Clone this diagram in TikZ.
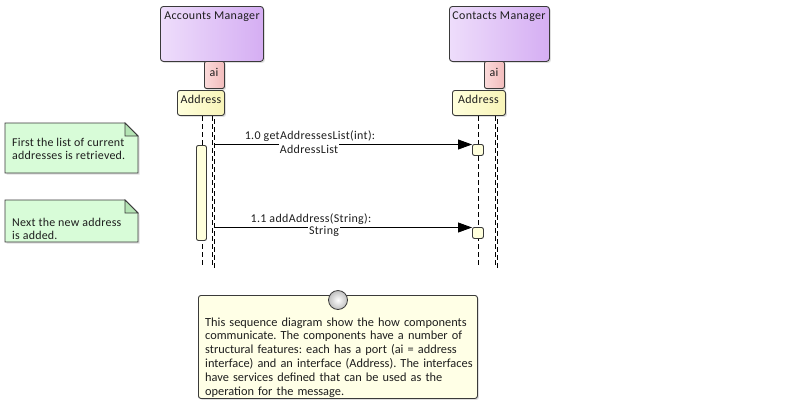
\documentclass[tikz,border=0pt]{standalone}
\usepackage{fontspec}
\setmainfont{Carlito}[LetterSpace=2.8]
\newfontfamily\notefont{Carlito}[LetterSpace=2]
\newfontfamily\bigfont{Carlito}
\usetikzlibrary{arrows.meta,shadows,calc}
\definecolor{txt}{HTML}{1E1E1E}
\definecolor{edge}{HTML}{3A3A3A}
\definecolor{purL}{HTML}{EEDDFB}
\definecolor{purR}{HTML}{D5AEF3}
\definecolor{pinkL}{HTML}{FBDADA}
\definecolor{pinkR}{HTML}{F2BCBC}
\definecolor{addrL}{HTML}{FFFFDC}
\definecolor{addrR}{HTML}{F8F4B8}
\definecolor{notegreen}{HTML}{D8FCD8}
\definecolor{foldgreen}{HTML}{B4E4B4}
\definecolor{noteyel}{HTML}{FFFFE6}
\frenchspacing
\begin{document}
\begin{tikzpicture}[x=1bp,y=-1bp,
  font=\fontsize{12}{13.5}\selectfont, text=txt,
  comp/.style={draw=edge, line width=0.9bp, rounded corners=3bp, left color=purL, right color=purR,
     drop shadow={shadow xshift=1.5bp, shadow yshift=-1.5bp, opacity=0.25}},
  port/.style={draw=edge, line width=0.9bp, rounded corners=2bp, left color=pinkL, right color=pinkR,
     drop shadow={shadow xshift=1.5bp, shadow yshift=-1.5bp, opacity=0.25}},
  iface/.style={draw=edge, line width=0.9bp, rounded corners=2.5bp, left color=addrL, right color=addrR,
     drop shadow={shadow xshift=1.5bp, shadow yshift=-1.5bp, opacity=0.25}},
  lifeline/.style={draw=black, line width=0.8bp, dash pattern=on 5bp off 3bp},
  actbar/.style={draw=edge, line width=0.9bp, rounded corners=2bp, fill=addrL},
  recv/.style={draw=edge, line width=0.9bp, rounded corners=2bp, fill=addrL},
  msg/.style={draw=black, line width=0.9bp, -{Triangle[length=14bp,width=10bp]}},
  lbl/.style={anchor=base, inner sep=0pt},
  notetext/.style={align=left, anchor=north west, inner sep=0pt, font=\notefont\fontsize{12}{13.3}\selectfont},
]
\useasboundingbox[fill=white] (0,0) rectangle (805,405);

% ---------- Components ----------
\node[comp, minimum width=103bp, minimum height=55bp, anchor=north west] (am) at (160,6) {};
\node[lbl] (amt) at (212,19) {Accounts Manager};
\node[port, minimum width=20bp, minimum height=27bp, anchor=north west] (aip1) at (204,61) {};
\node[lbl] (aip1t) at (214,76) {ai};
\node[iface, minimum width=47bp, minimum height=25bp, anchor=north west] (adr1) at (177,90) {};
\node[lbl] (adr1t) at (201,103) {Address};

\node[comp, minimum width=100bp, minimum height=55bp, anchor=north west] (cm) at (449,6) {};
\node[lbl] (cmt) at (499,19) {Contacts Manager};
\node[port, minimum width=20bp, minimum height=27bp, anchor=north west] (aip2) at (484,61) {};
\node[lbl] (aip2t) at (494,76) {ai};
\node[iface, minimum width=53bp, minimum height=25bp, anchor=north west] (adr2) at (452,90) {};
\node[lbl] (adr2t) at (478.5,103) {Address};

% ---------- Lifelines ----------
\coordinate (l1a) at (202,116);  \coordinate (l1b) at (202,268);
\coordinate (l2a) at (212,116);  \coordinate (l2b) at (212,268);
\coordinate (l3a) at (214,119);  \coordinate (l3b) at (214,268);
\coordinate (r1a) at (478,116);  \coordinate (r1b) at (478,268);
\coordinate (r2a) at (495,116);  \coordinate (r2b) at (495,268);
\coordinate (r3a) at (497.5,119);\coordinate (r3b) at (497.5,268);
\draw[lifeline] (l1a) -- (l1b);
\draw[lifeline] (l2a) -- (l2b);
\draw[lifeline] (l3a) -- (l3b);
\draw[lifeline] (r1a) -- (r1b);
\draw[lifeline] (r2a) -- (r2b);
\draw[lifeline] (r3a) -- (r3b);

% ---------- Activation ----------
\node[actbar, minimum width=10bp, minimum height=95bp, anchor=north west, inner sep=0pt] (act) at (196,145) {};
\node[recv, minimum width=11bp, minimum height=11bp, anchor=north west, inner sep=0pt] (rc1) at (472,144) {};
\node[recv, minimum width=11bp, minimum height=11bp, anchor=north west, inner sep=0pt] (rc2) at (472,227) {};

% ---------- Messages ----------
\coordinate (m1s) at (214,144.5);
\coordinate (m2s) at (214,227.5);
\draw[msg] (m1s) -- (rc1.west |- m1s);
\draw[msg] (m2s) -- (rc2.west |- m2s);
\node[lbl] (m1a) at (310,139) {1.0 getAddressesList(int):};
\node[lbl, fill=white, inner sep=1bp] (m1b) at (309,153) {AddressList};
\node[lbl] (m2a) at (311,222) {1.1 addAddress(String):};
\node[lbl, fill=white, inner sep=1bp] (m2b) at (324,234) {String};

% ---------- Notes ----------
\draw[draw=edge, line width=0.9bp, fill=notegreen,
   drop shadow={shadow xshift=1.5bp, shadow yshift=-1.5bp, opacity=0.25}]
   (5,123) -- (125,123) -- (138,136) -- (138,173) -- (5,173) -- cycle;
\draw[draw=edge, line width=0.8bp, fill=foldgreen] (125,123) -- (125,136) -- (138,136) -- cycle;
\node[notetext] (n1t) at (12,137.7) {First the list of current\\addresses is retrieved.};

\draw[draw=edge, line width=0.9bp, fill=notegreen,
   drop shadow={shadow xshift=1.5bp, shadow yshift=-1.5bp, opacity=0.25}]
   (5,200) -- (125,200) -- (138,213) -- (138,242) -- (5,242) -- cycle;
\draw[draw=edge, line width=0.8bp, fill=foldgreen] (125,200) -- (125,213) -- (138,213) -- cycle;
\node[notetext] (n2t) at (12,217.7) {Next the new address\\is added.};

% ---------- Bottom note ----------
\node[draw=edge, line width=0.9bp, rounded corners=2.5bp, fill=noteyel, anchor=north west,
   minimum width=279bp, minimum height=103bp, inner sep=0pt,
   drop shadow={shadow xshift=1.5bp, shadow yshift=-1.5bp, opacity=0.25}] (bn) at (198,295) {};
\node[notetext, text width=320bp, font=\bigfont\fontsize{12.4}{13.9}\selectfont] (bnt) at (205,317.3)
  {This sequence diagram show the how components\\communicate. The components have a number of\\structural features: each has a port (ai = address\\interface) and an interface (Address). The interfaces\\have services defined that can be used as the\\operation for the message.};
\shade[inner color=white, outer color=gray!50, draw=edge, line width=0.8bp] (338,300) circle (9.5bp);
\end{tikzpicture}
\end{document}
